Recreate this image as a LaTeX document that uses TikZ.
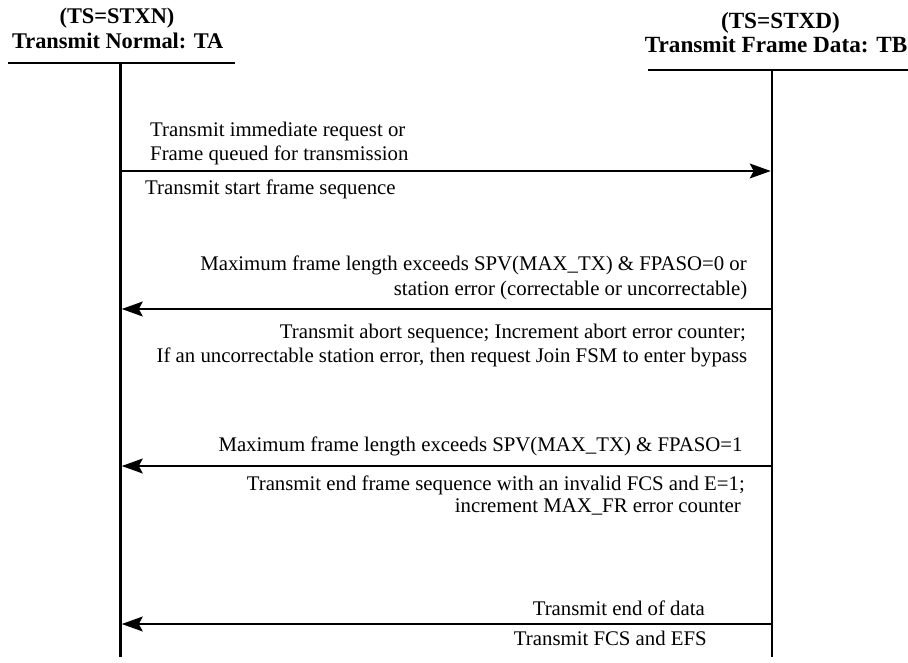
\documentclass[tikz,border=0pt]{standalone}
\usepackage{fontspec}
\setmainfont{Liberation Serif}
\usetikzlibrary{arrows.meta}
\begin{document}
\begin{tikzpicture}[x=1pt,y=-1pt,
  lifeline/.style={line width=2.6pt},
  hdrline/.style={line width=2.6pt},
  msg/.style={line width=1.3pt,-{Stealth[length=21pt,width=15pt,inset=4pt]}},
  hdr/.style={font=\fontsize{22.4}{25}\selectfont\bfseries,inner sep=0pt,anchor=base},
  hdrb/.style={font=\fontsize{23.2}{26}\selectfont\bfseries,inner sep=0pt,anchor=base},
  lbl/.style={font=\fontsize{20.8}{24}\selectfont,inner sep=0pt},
]
\useasboundingbox (0,0) rectangle (908,662);
% headers
\node[hdr] (tsa) at (117,23) {(TS=STXN)};
\node[hdr] (ta) at (117.7,48) {Transmit Normal: TA};
\node[hdrb] (tsb) at (780.5,28) {(TS=STXD)};
\node[hdrb,anchor=base east] (tb) at (907.5,52.5) {Transmit Frame Data: TB};
\coordinate (hl1) at (8,63);
\coordinate (hl2) at (235,63);
\coordinate (hr1) at (648,70);
\coordinate (hr2) at (912,70);
\draw[hdrline] (hl1) -- (hl2);
\draw[hdrline] (hr1) -- (hr2);
% lifelines
\coordinate (at) at (120.5,63);
\coordinate (ab) at (120.5,657);
\coordinate (bt) at (772,70);
\coordinate (bb) at (772,657);
\draw[lifeline] (at) -- (ab);
\draw[lifeline] (bt) -- (bb);
% message coordinates
\coordinate (a1) at (121.8,171); \coordinate (b1) at (770.7,171);
\coordinate (a2) at (121.8,309); \coordinate (b2) at (770.7,309);
\coordinate (a3) at (121.8,466); \coordinate (b3) at (770.7,466);
\coordinate (a4) at (121.8,624); \coordinate (b4) at (770.7,624);
\draw[msg] (a1) -- (b1);
\draw[msg] (b2) -- (a2);
\draw[msg] (b3) -- (a3);
\draw[msg] (b4) -- (a4);
% labels
\node[lbl,anchor=base west] (m1a) at (150,136) {Transmit immediate request or};
\node[lbl,anchor=base west] (m1b) at (150,160) {Frame queued for transmission};
\node[lbl,anchor=base west] (m1c) at (145,194) {Transmit start frame sequence};
\node[lbl,anchor=base east] (m2a) at (747,270) {Maximum frame length exceeds SPV(MAX\_TX) \& FPASO=0 or};
\node[lbl,anchor=base east] (m2b) at (747.5,295) {station error (correctable or uncorrectable)};
\node[lbl,anchor=base east] (m2c) at (746,338) {Transmit abort sequence; Increment abort error counter;};
\node[lbl,anchor=base east] (m2d) at (747.5,362.5) {If an uncorrectable station error, then request Join FSM to enter bypass};
\node[lbl,anchor=base east] (m3a) at (742.7,451.7) {Maximum frame length exceeds SPV(MAX\_TX) \& FPASO=1};
\node[lbl,anchor=base east] (m3b) at (745,490) {Transmit end frame sequence with an invalid FCS and E=1;};
\node[lbl,anchor=base east] (m3c) at (741,512) {increment MAX\_FR error counter};
\node[lbl,anchor=base east] (m4a) at (705,615) {Transmit end of data};
\node[lbl,anchor=base east] (m4b) at (707,645.5) {Transmit FCS and EFS};
\end{tikzpicture}
\end{document}
